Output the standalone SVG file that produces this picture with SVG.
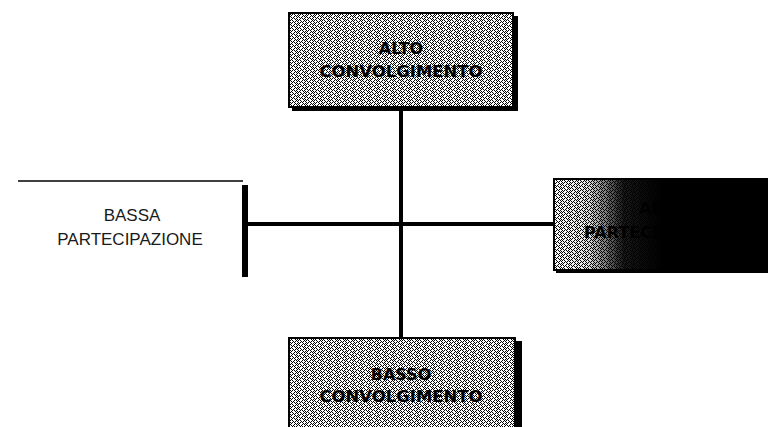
<svg xmlns="http://www.w3.org/2000/svg" width="768" height="427" viewBox="0 0 768 427">
<style>
.lbl{font-family:"Liberation Sans",Arial,sans-serif;font-size:17px;fill:#1a1a1a;text-anchor:middle}
.blbl{font-family:"DejaVu Sans",Verdana,sans-serif;font-size:16px;font-weight:bold;fill:#000;text-anchor:middle}
.box{fill:url(#dither);stroke:#000;stroke-width:2}
.shadow{fill:#000}
.conn{stroke:#000;stroke-width:4;fill:none}
</style>
<defs>
<pattern id="dither" width="8" height="8" patternUnits="userSpaceOnUse">
<rect width="8" height="8" fill="#fff"/>
<path d="M0 0h1v1H0zM2 0h1v1H2zM6 0h1v1H6zM1 1h1v1H1zM3 1h1v1H3zM5 1h1v1H5zM0 2h1v1H0zM4 2h1v1H4zM6 2h1v1H6zM1 3h1v1H1zM3 3h1v1H3zM7 3h1v1H7zM0 4h1v1H0zM2 4h1v1H2zM4 4h1v1H4zM5 5h1v1H5zM7 5h1v1H7zM1 5h1v1H1zM2 6h1v1H2zM4 6h1v1H4zM6 6h1v1H6zM1 7h1v1H1zM3 7h1v1H3zM7 7h1v1H7z" fill="#000"/>
</pattern>
<linearGradient id="fade" x1="0" y1="0" x2="1" y2="0">
<stop offset="0" stop-color="#000" stop-opacity="0"/>
<stop offset="0.15" stop-color="#000" stop-opacity="0.1"/>
<stop offset="0.32" stop-color="#000" stop-opacity="0.9"/>
<stop offset="0.5" stop-color="#000" stop-opacity="1"/>
<stop offset="1" stop-color="#000" stop-opacity="1"/>
</linearGradient>
</defs>
<g id="connectors">
<line class="conn" x1="401" y1="108" x2="401" y2="338"/>
<line class="conn" x1="247" y1="224" x2="553" y2="224"/>
</g>
<g id="alto-coinvolgimento">
<rect class="shadow" x="292" y="16" width="226" height="95"/>
<rect class="box" x="289" y="13" width="224" height="94"/>
<text class="blbl" x="401" y="54">ALTO</text>
<text class="blbl" x="401" y="77" textLength="163" lengthAdjust="spacingAndGlyphs">CONVOLGIMENTO</text>
</g>
<g id="bassa-partecipazione">
<line x1="18" y1="181" x2="243" y2="181" stroke="#000" stroke-width="1.5"/>
<rect x="242" y="185" width="6" height="92" fill="#000"/>
<text class="lbl" x="132" y="221">BASSA</text>
<text class="lbl" x="130" y="245">PARTECIPAZIONE</text>
</g>
<g id="alta-partecipazione">
<rect class="shadow" x="556" y="182" width="212" height="91"/>
<rect class="box" x="554" y="179" width="216" height="91"/>
<text class="blbl" x="660" y="214">ALTA</text>
<text class="blbl" x="660" y="238">PARTECIPAZIONE</text>
<rect x="554" y="179" width="216" height="91" fill="url(#fade)"/>
</g>
<g id="basso-coinvolgimento">
<rect class="shadow" x="292" y="341" width="230" height="90"/>
<rect class="box" x="289" y="338" width="226" height="92"/>
<text class="blbl" x="401" y="380">BASSO</text>
<text class="blbl" x="401" y="402" textLength="163" lengthAdjust="spacingAndGlyphs">CONVOLGIMENTO</text>
</g>
</svg>
